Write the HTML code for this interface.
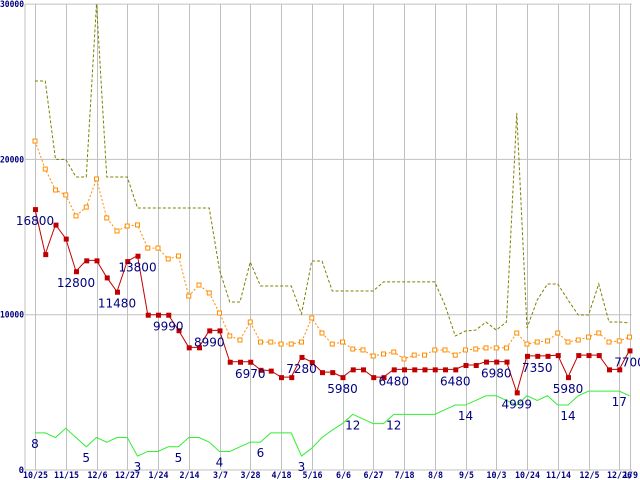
<!DOCTYPE html>
<html><head><meta charset="utf-8"><style>
html,body{margin:0;padding:0;background:#fff;}
svg{display:block;}
.tk{font-family:"DejaVu Sans Mono","Liberation Mono",monospace;font-size:9px;font-weight:bold;fill:#000080;}
.lb{font-family:"DejaVu Sans","Liberation Sans",sans-serif;font-size:12px;fill:#000080;}
</style></head><body>
<svg id="chart" width="640" height="480" viewBox="0 0 640 480" xmlns="http://www.w3.org/2000/svg"></svg>
<script>
const xLabels=["10/25","11/15","12/6","12/27","1/24","2/14","3/7","3/28","4/18","5/16","6/6","6/27","7/18","8/8","9/5","10/3","10/24","11/14","12/5","12/26","1/9"];
const xLabelIdx=[0,3,6,9,12,15,18,21,24,27,30,33,36,39,42,45,48,51,54,57,58];
const yTicks=[0,10000,20000,30000];
const redVals=[16800,13900,15800,14900,12800,13500,13500,12400,11480,13450,13800,10000,10000,10000,9000,7900,7900,8990,8990,6970,6970,6970,6450,6400,5980,5980,7280,6950,6300,6300,5980,6480,6480,5980,5980,6480,6480,6480,6480,6480,6480,6480,6760,6760,6980,6980,6980,4999,7350,7350,7350,7400,5980,7400,7400,7400,6480,6480,7700];
const orangeVals=[21180,19380,18030,17710,16360,16930,18740,16230,15390,15710,15780,14290,14290,13590,13780,11200,11910,11400,10110,8630,8370,9530,8240,8240,8110,8110,8240,9790,8820,8110,8240,7790,7730,7340,7470,7600,7150,7400,7400,7730,7730,7400,7730,7790,7860,7860,7860,8820,8110,8240,8310,8820,8240,8370,8560,8820,8240,8310,8560];
const oliveVals=[25050,25050,20000,20000,18870,18870,30000,18870,18870,18870,16870,16870,16870,16870,16870,16870,16870,16870,12880,10820,10820,13390,11850,11850,11850,11850,10050,13460,13460,11530,11530,11530,11530,11530,12110,12110,12110,12110,12110,12110,10620,8630,8950,9010,9530,9010,9530,22990,9140,10950,11980,11980,10950,9980,9980,11980,9530,9530,9470];
const greenVals=[8,8,7,9,7,5,7,6,7,7,3,4,4,5,5,7,7,6,4,4,5,6,6,8,8,8,3,4.7,7,8.6,10,12,11,10,10,12,12,12,12,12,13,14,14,15,16,16,15,14,16,15,16,14,14,16,17,17,17,17,16];
const redLabels=[[0,"16800"],[4,"12800"],[8,"11480"],[10,"13800"],[13,"9990"],[17,"8990"],[21,"6970"],[26,"7280"],[30,"5980"],[35,"6480"],[41,"6480"],[45,"6980"],[47,"4999"],[49,"7350"],[52,"5980"],[58,"7700"]];
const greenLabels=[[0,"8"],[5,"5"],[10,"3"],[14,"5"],[18,"4"],[22,"6"],[26,"3"],[31,"12"],[35,"12"],[42,"14"],[52,"14"],[57,"17"]];
</script>
<script>
const svg=document.getElementById('chart');
const NS='http://www.w3.org/2000/svg';
function xs(i){return 35+i*10.25;}
function ys(v){return 470-v*0.01553;}
function yg(v){return 470-v*4.64;}
function mk(tag,attrs){const e=document.createElementNS(NS,tag);for(const k in attrs)e.setAttribute(k,attrs[k]);svg.appendChild(e);return e;}
yTicks.forEach(t=>{
  const l=mk('line',{x1:25,x2:632,y1:ys(t),y2:ys(t),stroke:'#c0c0c0','stroke-width':1});
  
  
  const s=String(t);
  const attrs={x:24,y:ys(t)+3,'text-anchor':'end',class:'tk'};
  if(s.length>1){attrs.textLength=s.length*4.8;attrs.lengthAdjust='spacingAndGlyphs';}
  const tx=mk('text',attrs);
  tx.textContent=s;
  
  
});
const ax=mk('line',{x1:25,x2:25,y1:4,y2:470,stroke:'#c0c0c0','stroke-width':1});


xLabelIdx.forEach((ix,k)=>{
  const x=Math.round(xs(ix))+0.5;
  const l=mk('line',{x1:x,x2:x,y1:4,y2:470,stroke:'#c0c0c0','stroke-width':1});
  
  
  const s=xLabels[k];
  const tx=mk('text',{x:x,y:478,'text-anchor':'middle',class:'tk',textLength:s.length*5,lengthAdjust:'spacingAndGlyphs'});
  tx.textContent=s;
  
  
});
function poly(vals,fy,color,dash,name){
  const p=mk('polyline',{points:vals.map((v,i)=>xs(i)+','+fy(v)).join(' '),fill:'none',stroke:color,'stroke-width':1,'stroke-dasharray':dash||'none'});
  
  
}
poly(oliveVals,ys,'#808000','3,2','series-olive-line');
poly(orangeVals,ys,'#ff8c00','2,2','series-orange-line');
orangeVals.forEach((v,i)=>{
  const r=mk('rect',{x:xs(i)-2,y:ys(v)-2,width:4,height:4,fill:'#fff',stroke:'#ff8c00','stroke-width':1});
  
  
});
poly(greenVals,yg,'#33ee33',null,'series-green-line');
poly(redVals,ys,'#c00000',null,'series-red-line');
redVals.forEach((v,i)=>{
  const r=mk('rect',{x:xs(i)-2,y:ys(v)-2,width:5,height:5,fill:'#c00000'});
  
  
});
redLabels.forEach(([i,t])=>{
  const tx=mk('text',{x:xs(i),y:ys(redVals[i])+16,'text-anchor':'middle',class:'lb'});
  tx.textContent=t;
  
  
});
greenLabels.forEach(([i,t])=>{
  const tx=mk('text',{x:xs(i),y:yg(greenVals[i])+15,'text-anchor':'middle',class:'lb'});
  tx.textContent=t;
  
  
});
</script>
</body></html>
